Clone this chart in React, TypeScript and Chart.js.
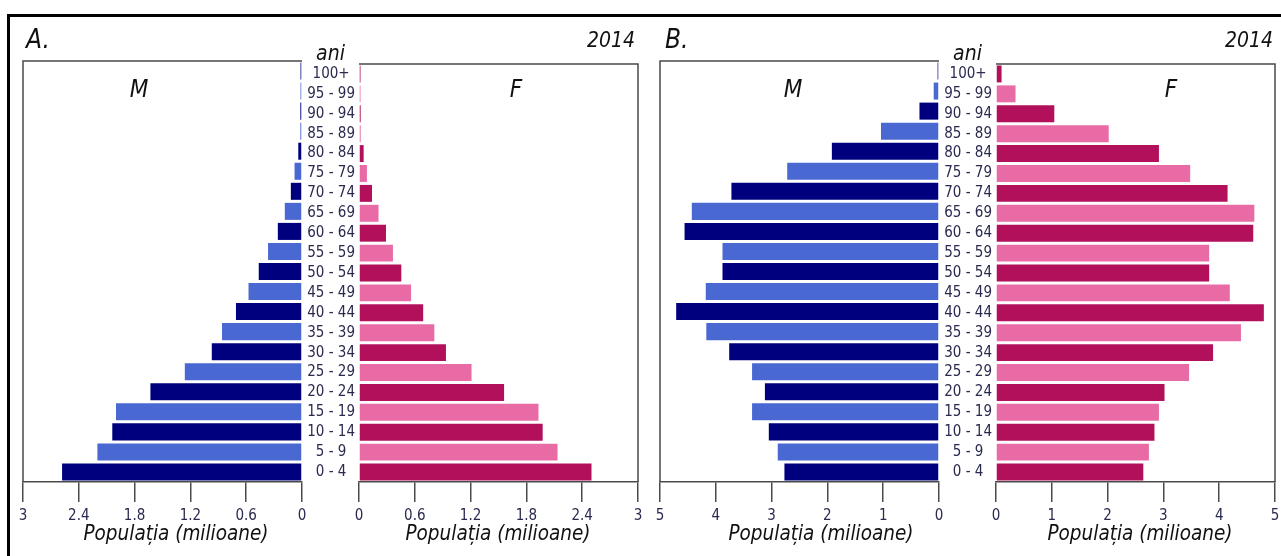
import React, { useEffect, useRef } from 'react';
import { Chart, registerables } from 'chart.js';

Chart.register(...registerables);

// ---------- data ----------
const ageGroups = [
  '0 - 4', '5 - 9', '10 - 14', '15 - 19', '20 - 24', '25 - 29', '30 - 34',
  '35 - 39', '40 - 44', '45 - 49', '50 - 54', '55 - 59', '60 - 64', '65 - 69',
  '70 - 74', '75 - 79', '80 - 84', '85 - 89', '90 - 94', '95 - 99', '100+',
];

// Panel A (milioane)
const maleA = [
  2.58, 2.2, 2.04, 2.0, 1.63, 1.26, 0.97, 0.86, 0.71, 0.575, 0.465,
  0.365, 0.26, 0.185, 0.12, 0.08, 0.04, 0.018, 0.018, 0.016, 0.016,
];
const femaleA = [
  2.5, 2.135, 1.975, 1.93, 1.56, 1.21, 0.935, 0.81, 0.69, 0.56, 0.455,
  0.365, 0.29, 0.21, 0.14, 0.085, 0.05, 0.018, 0.018, 0.016, 0.016,
];

// Panel B (milioane)
const maleB = [
  2.77, 2.89, 3.05, 3.35, 3.12, 3.35, 3.76, 4.17, 4.71, 4.18, 3.88,
  3.88, 4.56, 4.43, 3.72, 2.72, 1.92, 1.04, 0.35, 0.095, 0.025,
];
const femaleB = [
  2.64, 2.74, 2.84, 2.92, 3.02, 3.46, 3.89, 4.39, 4.8, 4.19, 3.82,
  3.82, 4.61, 4.63, 4.15, 3.48, 2.92, 2.02, 1.045, 0.35, 0.1,
];

const axisMaxA = 3;
const axisStepA = 0.6;
const axisMaxB = 5;
const axisStepB = 1;

const panelLetters = ['A.', 'B.'];
const yearLabel = '2014';
const ageAxisLabel = 'ani';
const maleLabel = 'M';
const femaleLabel = 'F';
const xAxisTitle = 'Populația (milioane)';

// ---------- styles ----------
const DARK_BLUE = '#00007f';
const LIGHT_BLUE = '#4968d2';
const DARK_PINK = '#b2105b';
const LIGHT_PINK = '#e96ba6';
const LINE = '#4a4a4a';
const TICK_TEXT = '#2a2a50';
const NARROW = "'Liberation Sans Narrow', 'DejaVu Sans Condensed', sans-serif";
const COND = "'DejaVu Sans Condensed', 'DejaVu Sans', sans-serif";

const AREA_TOP = 61;
const AREA_H = 421;
const AXIS_H = 45;
const AGE_W = 57;

type Side = 'M' | 'F';

const framePlugin = (side: Side) => ({
  id: 'frame' + side,
  afterDraw(chart: any) {
    const { ctx, chartArea: a } = chart;
    ctx.save();
    ctx.strokeStyle = LINE;
    ctx.lineWidth = 1.5;
    ctx.beginPath();
    if (side === 'M') {
      ctx.moveTo(a.left, a.bottom);
      ctx.lineTo(a.left, a.top);
      ctx.lineTo(a.right, a.top);
    } else {
      ctx.moveTo(a.left, a.top);
      ctx.lineTo(a.right, a.top);
      ctx.lineTo(a.right, a.bottom);
    }
    ctx.stroke();
    ctx.restore();
  },
});

function Half(props: {
  values: number[];
  side: Side;
  max: number;
  step: number;
  areaLeft: number;
  areaWidth: number;
}) {
  const { values, side, max, step, areaLeft, areaWidth } = props;
  const ref = useRef<HTMLCanvasElement>(null);
  const padL = side === 'M' ? 15 : 5;
  const yW = side === 'F' ? AGE_W : 0;
  const padR = 15;
  const padT = 10;
  const padB = 5;
  const left = areaLeft - yW - padL;
  const top = AREA_TOP - padT;
  const width = padL + yW + areaWidth + padR;
  const height = padT + AREA_H + AXIS_H + padB;

  useEffect(() => {
    if (!ref.current) return;
    const colors = values.map((_, i) =>
      side === 'M' ? (i % 2 === 0 ? DARK_BLUE : LIGHT_BLUE) : i % 2 === 0 ? DARK_PINK : LIGHT_PINK
    );
    const yScale: any = {
      type: 'category',
      reverse: true,
      display: side === 'F',
      position: 'left',
      grid: { display: false, drawTicks: false },
      border: { display: false },
      ticks: {
        crossAlign: 'center',
        padding: 4,
        autoSkip: false,
        color: TICK_TEXT,
        font: { family: COND, size: 15 },
      },
    };
    if (side === 'F') {
      yScale.afterFit = (s: any) => {
        s.width = AGE_W;
      };
    }
    const chart = new Chart(ref.current, {
      type: 'bar',
      data: {
        labels: ageGroups,
        datasets: [
          {
            data: values,
            backgroundColor: colors,
            borderWidth: 0,
            barPercentage: 0.85,
            categoryPercentage: 1,
          },
        ],
      },
      options: {
        indexAxis: 'y',
        animation: false,
        responsive: false,
        layout: { padding: { left: padL, right: padR, top: padT, bottom: padB } },
        plugins: { legend: { display: false }, tooltip: { enabled: false } },
        scales: {
          x: {
            type: 'linear',
            min: 0,
            max,
            reverse: side === 'M',
            position: 'bottom',
            afterFit: (s: any) => {
              s.height = AXIS_H;
            },
            grid: {
              drawOnChartArea: false,
              drawTicks: true,
              tickLength: 20,
              color: LINE,
              lineWidth: 1.5,
            },
            border: { display: true, color: LINE, width: 1.5 },
            ticks: {
              stepSize: step,
              padding: 5,
              color: TICK_TEXT,
              maxRotation: 0,
              autoSkip: false,
              font: { family: COND, size: 15 },
              callback: (v: any) => String(Math.round(Number(v) * 10) / 10),
            },
          },
          y: yScale,
        },
      } as any,
      plugins: [framePlugin(side)],
    });
    return () => chart.destroy();
  }, []);

  return (
    <canvas
      ref={ref}
      width={width}
      height={height}
      style={{ position: 'absolute', left, top, width, height }}
    />
  );
}

function Txt(props: {
  text: string;
  x: number;
  baseline: number;
  fs: number;
  align?: 'left' | 'center' | 'right';
}) {
  const { text, x, baseline, fs, align = 'center' } = props;
  const style: React.CSSProperties = {
    position: 'absolute',
    top: baseline - 0.8465 * fs,
    fontFamily: NARROW,
    fontStyle: 'italic',
    fontSize: fs,
    lineHeight: 1,
    whiteSpace: 'nowrap',
    color: '#111',
  };
  if (align === 'left') style.left = x;
  else if (align === 'right') style.right = 1281 - x;
  else {
    style.left = x;
    style.transform = 'translateX(-50%)';
  }
  return <div style={style}>{text}</div>;
}

function Panel(props: {
  letter: string;
  male: number[];
  female: number[];
  max: number;
  step: number;
  mLeft: number;
  fLeft: number;
  mTitleX: number;
  fTitleX: number;
  mLabelX: number;
  fLabelX: number;
  yearRight: number;
  letterLeft: number;
}) {
  const p = props;
  const areaW = 279;
  const ageCenter = p.mLeft + areaW + AGE_W / 2;
  return (
    <>
      <Half values={p.male} side="M" max={p.max} step={p.step} areaLeft={p.mLeft} areaWidth={areaW} />
      <Half values={p.female} side="F" max={p.max} step={p.step} areaLeft={p.fLeft} areaWidth={areaW} />
      <Txt text={p.letter} x={p.letterLeft} baseline={48} fs={26} align="left" />
      <Txt text={yearLabel} x={p.yearRight} baseline={48} fs={21} align="right" />
      <Txt text={ageAxisLabel} x={ageCenter} baseline={61} fs={21} />
      <Txt text={maleLabel} x={p.mLabelX} baseline={97} fs={24} />
      <Txt text={femaleLabel} x={p.fLabelX} baseline={97} fs={24} />
      <Txt text={xAxisTitle} x={p.mTitleX} baseline={540} fs={20.5} />
      <Txt text={xAxisTitle} x={p.fTitleX} baseline={540} fs={20.5} />
    </>
  );
}

export default function App() {
  return (
    <div
      style={{
        position: 'absolute',
        left: 0,
        top: 0,
        width: 1281,
        height: 556,
        overflow: 'hidden',
        background: '#fff',
      }}
    >
      <div
        style={{
          position: 'absolute',
          left: 7,
          top: 14,
          width: 1320,
          height: 600,
          borderLeft: '3px solid #000',
          borderTop: '3px solid #000',
        }}
      />
      <Panel
        letter={panelLetters[0]}
        male={maleA}
        female={femaleA}
        max={axisMaxA}
        step={axisStepA}
        mLeft={23}
        fLeft={359}
        mTitleX={176}
        fTitleX={498}
        mLabelX={139}
        fLabelX={516}
        yearRight={635}
        letterLeft={26}
      />
      <Panel
        letter={panelLetters[1]}
        male={maleB}
        female={femaleB}
        max={axisMaxB}
        step={axisStepB}
        mLeft={660}
        fLeft={996}
        mTitleX={821}
        fTitleX={1140}
        mLabelX={793}
        fLabelX={1171}
        yearRight={1273}
        letterLeft={665}
      />
    </div>
  );
}
